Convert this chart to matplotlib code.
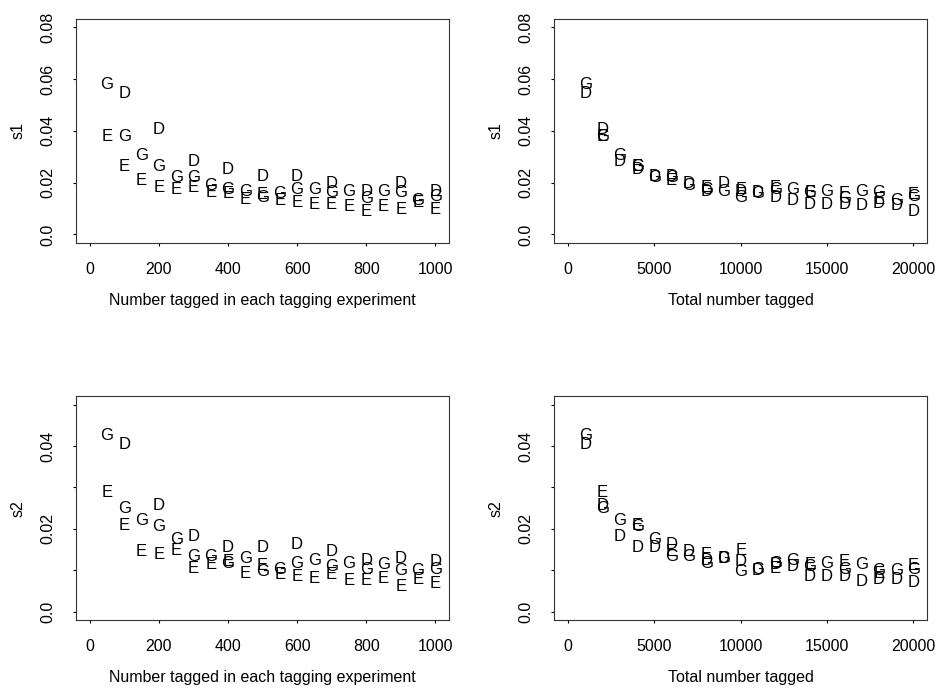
import matplotlib
matplotlib.use("Agg")
import matplotlib.pyplot as plt

plt.rcParams["font.family"] = ["Liberation Sans", "DejaVu Sans"]

# number tagged in each experiment / total number tagged, per letter
n_G = [50, 100, 150, 200, 250, 300, 350, 400, 450, 500,
       550, 600, 650, 700, 750, 800, 850, 900, 950, 1000]
total_G = [1000, 2000, 3000, 4000, 5000, 6000, 7000, 8000, 9000, 10000,
           11000, 12000, 13000, 14000, 15000, 16000, 17000, 18000, 19000, 20000]
n_D = [100, 200, 300, 400, 500, 600, 700, 800, 900, 1000,
       1100, 1200, 1300, 1400, 1500, 1600, 1700, 1800, 1900, 2000]
total_D = [1000, 2000, 3000, 4000, 5000, 6000, 7000, 8000, 9000, 10000,
           11000, 12000, 13000, 14000, 15000, 16000, 17000, 18000, 19000, 20000]
n_E = [50, 100, 150, 200, 250, 300, 350, 400, 450, 500,
       550, 600, 650, 700, 750, 800, 850, 900, 950, 1000]
total_E = [2000, 4000, 6000, 8000, 10000, 12000, 14000, 16000, 18000, 20000,
           22000, 24000, 26000, 28000, 30000, 32000, 34000, 36000, 38000, 40000]

s1_G = [0.0585, 0.0385, 0.0311, 0.0269, 0.0226, 0.0226, 0.0195, 0.0180, 0.0172, 0.0150,
        0.0165, 0.0179, 0.0179, 0.0166, 0.0172, 0.0146, 0.0172, 0.0166, 0.0136, 0.0153]
s1_D = [0.0550, 0.0411, 0.0286, 0.0256, 0.0230, 0.0230, 0.0204, 0.0172, 0.0204, 0.0172,
        0.0166, 0.0149, 0.0136, 0.0121, 0.0122, 0.0122, 0.0118, 0.0125, 0.0118, 0.0095]
s1_E = [0.0385, 0.0269, 0.0214, 0.0188, 0.0181, 0.0188, 0.0168, 0.0165, 0.0140, 0.0158,
        0.0135, 0.0127, 0.0121, 0.0121, 0.0114, 0.0095, 0.0114, 0.0101, 0.0127, 0.0101]

s2_G = [0.0429, 0.0253, 0.0224, 0.0210, 0.0178, 0.0138, 0.0138, 0.0121, 0.0133, 0.0100,
        0.0105, 0.0121, 0.0127, 0.0113, 0.0121, 0.0105, 0.0117, 0.0103, 0.0103, 0.0105]
s2_D = [0.0407, 0.0259, 0.0186, 0.0159, 0.0159, 0.0166, 0.0148, 0.0127, 0.0132, 0.0125,
        0.0102, 0.0117, 0.0113, 0.0088, 0.0088, 0.0088, 0.0077, 0.0081, 0.0081, 0.0075]
s2_E = [0.0291, 0.0213, 0.0150, 0.0142, 0.0151, 0.0109, 0.0117, 0.0124, 0.0097, 0.0116,
        0.0093, 0.0089, 0.0085, 0.0093, 0.0079, 0.0079, 0.0085, 0.0065, 0.0081, 0.0073]

s1_ticks = [0.0, 0.02, 0.04, 0.06, 0.08]
s1_labels = ["0.0", "0.02", "0.04", "0.06", "0.08"]
s2_ticks = [0.0, 0.01, 0.02, 0.03, 0.04, 0.05]
s2_labels = ["0.0", "", "0.02", "", "0.04", ""]
n_ticks = [0, 200, 400, 600, 800, 1000]
total_ticks = [0, 5000, 10000, 15000, 20000]

FS = 11.5


def letters(ax, xs, ys, ch):
    # only the points inside the x range, like a plot region clip
    x0, x1 = ax.get_xlim()
    for x, y in zip(xs, ys):
        if x0 <= x <= x1:
            ax.text(x, y, ch, ha="center", va="center_baseline", fontsize=12, clip_on=True)


def style_panel(ax, xlim, xticks, ylim, yticks, ylabels, xlabel, ylabel):
    ax.set_xlim(xlim[0] - 0.04 * (xlim[1] - xlim[0]), xlim[1] + 0.04 * (xlim[1] - xlim[0]))
    ax.set_ylim(ylim[0] - 0.04 * (ylim[1] - ylim[0]), ylim[1] + 0.04 * (ylim[1] - ylim[0]))
    ax.set_xticks(xticks)
    ax.set_xticklabels([str(t) for t in xticks], fontsize=FS)
    ax.set_yticks(yticks)
    ax.set_yticklabels(ylabels, fontsize=FS, rotation=90, va="center")
    ax.tick_params(direction="out", length=2, width=0.8, color="black")
    ax.tick_params(axis="x", pad=12)
    ax.tick_params(axis="y", pad=13)
    for sp in ax.spines.values():
        sp.set_linewidth(0.8)
        sp.set_color("#333333")
    ax.set_xlabel(xlabel, fontsize=FS, va="center")
    ax.xaxis.set_label_coords(0.5, -0.258)
    ax.set_ylabel(ylabel, fontsize=FS, va="center")
    ax.yaxis.set_label_coords(-0.155, 0.5)


fig = plt.figure(figsize=(9.41, 6.89), dpi=100)
w_ax = 0.3964
h_ax = 0.3247
ax1 = fig.add_axes([0.0808, 0.6478, w_ax, h_ax])
ax2 = fig.add_axes([0.5890, 0.6478, w_ax, h_ax])
ax3 = fig.add_axes([0.0808, 0.1001, w_ax, h_ax])
ax4 = fig.add_axes([0.5890, 0.1001, w_ax, h_ax])

style_panel(ax1, (0, 1000), n_ticks, (0, 0.08), s1_ticks, s1_labels,
            "Number tagged in each tagging experiment", "s1")
letters(ax1, n_G, s1_G, "G")
letters(ax1, n_D, s1_D, "D")
letters(ax1, n_E, s1_E, "E")

style_panel(ax2, (0, 20000), total_ticks, (0, 0.08), s1_ticks, s1_labels,
            "Total number tagged", "s1")
letters(ax2, total_G, s1_G, "G")
letters(ax2, total_D, s1_D, "D")
letters(ax2, total_E, s1_E, "E")

style_panel(ax3, (0, 1000), n_ticks, (0, 0.05), s2_ticks, s2_labels,
            "Number tagged in each tagging experiment", "s2")
letters(ax3, n_G, s2_G, "G")
letters(ax3, n_D, s2_D, "D")
letters(ax3, n_E, s2_E, "E")

style_panel(ax4, (0, 20000), total_ticks, (0, 0.05), s2_ticks, s2_labels,
            "Total number tagged", "s2")
letters(ax4, total_G, s2_G, "G")
letters(ax4, total_D, s2_D, "D")
letters(ax4, total_E, s2_E, "E")

fig.savefig("out.png", dpi=100, facecolor="white")
